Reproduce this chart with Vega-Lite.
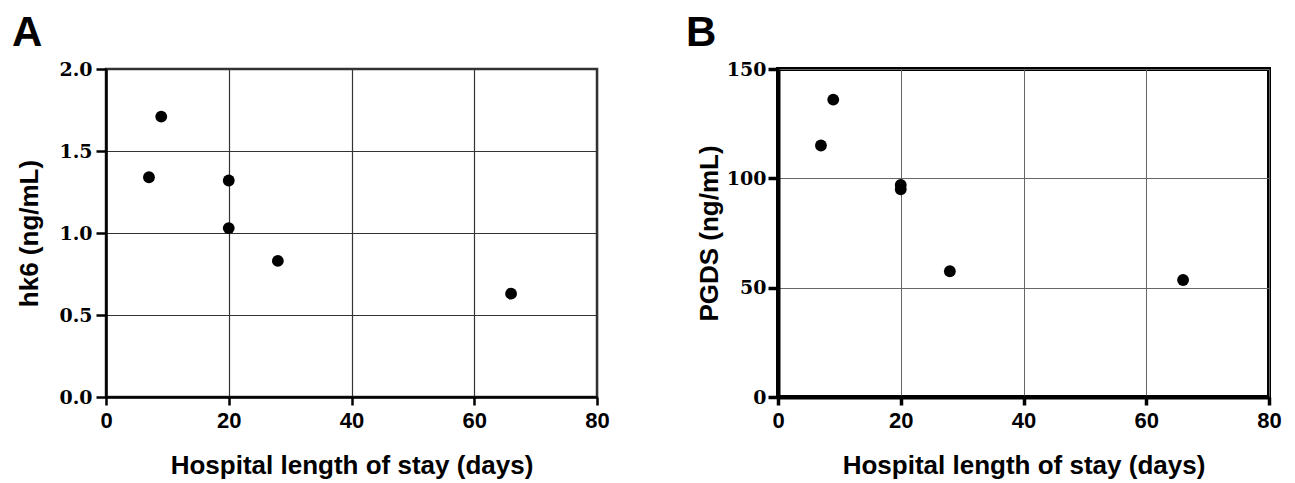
{
  "$schema": "https://vega.github.io/schema/vega-lite/v6.json",
  "background": "white",
  "padding": {"left": 10, "top": 10, "right": 10, "bottom": 0},
  "spacing": 73,
  "datasets": {
    "hk6": [
      {"los": 7, "value": 1.34},
      {"los": 9, "value": 1.71},
      {"los": 20, "value": 1.32},
      {"los": 20, "value": 1.03},
      {"los": 28, "value": 0.83},
      {"los": 66, "value": 0.63}
    ],
    "pgds": [
      {"los": 7, "value": 115},
      {"los": 9, "value": 136},
      {"los": 20, "value": 97},
      {"los": 20, "value": 95},
      {"los": 28, "value": 57.5},
      {"los": 66, "value": 53.5}
    ]
  },
  "hconcat": [
    {
      "width": 491,
      "height": 328,
      "title": {"text": "A", "anchor": "start", "frame": "group", "dx": -94, "offset": 5, "fontSize": 42, "font": "Liberation Sans", "fontWeight": "bold", "color": "black"},
      "data": {"name": "hk6"},
      "mark": {"type": "circle", "color": "black", "size": 140, "opacity": 1},
      "encoding": {
        "x": {"field": "los", "type": "quantitative", "scale": {"domain": [0, 80], "nice": false, "zero": false},
          "axis": {"title": "Hospital length of stay (days)", "values": [0, 20, 40, 60, 80], "gridColor": "#333", "gridWidth": 1.2, "domainWidth": 2.5, "tickWidth": 2.5}},
        "y": {"field": "value", "type": "quantitative", "scale": {"domain": [0, 2], "nice": false, "zero": false},
          "axis": {"title": "hk6 (ng/mL)", "values": [0, 0.5, 1, 1.5, 2], "format": ".1f", "gridColor": "#333", "gridWidth": 1.2, "domainWidth": 2.5, "tickWidth": 2.5, "tickSize": 10, "labelPadding": 4, "titlePadding": 16}}
      },
      "view": {"stroke": "#333", "strokeWidth": 2.5}
    },
    {
      "width": 491,
      "height": 328,
      "title": {"text": "B", "anchor": "start", "frame": "group", "dx": -92, "offset": 5, "fontSize": 42, "font": "Liberation Sans", "fontWeight": "bold", "color": "black"},
      "data": {"name": "pgds"},
      "mark": {"type": "circle", "color": "black", "size": 140, "opacity": 1},
      "encoding": {
        "x": {"field": "los", "type": "quantitative", "scale": {"domain": [0, 80], "nice": false, "zero": false},
          "axis": {"title": "Hospital length of stay (days)", "values": [0, 20, 40, 60, 80], "gridColor": "#666", "gridWidth": 1, "domainWidth": 4, "tickWidth": 3.5}},
        "y": {"field": "value", "type": "quantitative", "scale": {"domain": [0, 150], "nice": false, "zero": false},
          "axis": {"title": "PGDS (ng/mL)", "values": [0, 50, 100, 150], "gridColor": "#666", "gridWidth": 1, "domainWidth": 4, "tickWidth": 3.5, "tickSize": 10, "labelPadding": 2, "titlePadding": 4}}
      },
      "view": {"stroke": "black", "strokeWidth": 4}
    }
  ],
  "config": {
    "axis": {
      "grid": true,
      "gridOpacity": 1,
      "domainColor": "black",
      "tickColor": "black",
      "tickSize": 8,
      "labelColor": "black",
      "titleColor": "black",
      "labelFontWeight": "bold",
      "titleFontWeight": "bold",
      "titleFont": "Liberation Sans",
      "titleFontSize": 26
    },
    "axisX": {
      "labelFont": "Liberation Sans",
      "labelFontSize": 22,
      "labelPadding": 5,
      "titlePadding": 21,
      "labelFlush": false,
      "labelOverlap": false
    },
    "axisY": {
      "labelFont": "DejaVu Serif",
      "labelFontSize": 19,
      "labelOverlap": false
    }
  }
}
